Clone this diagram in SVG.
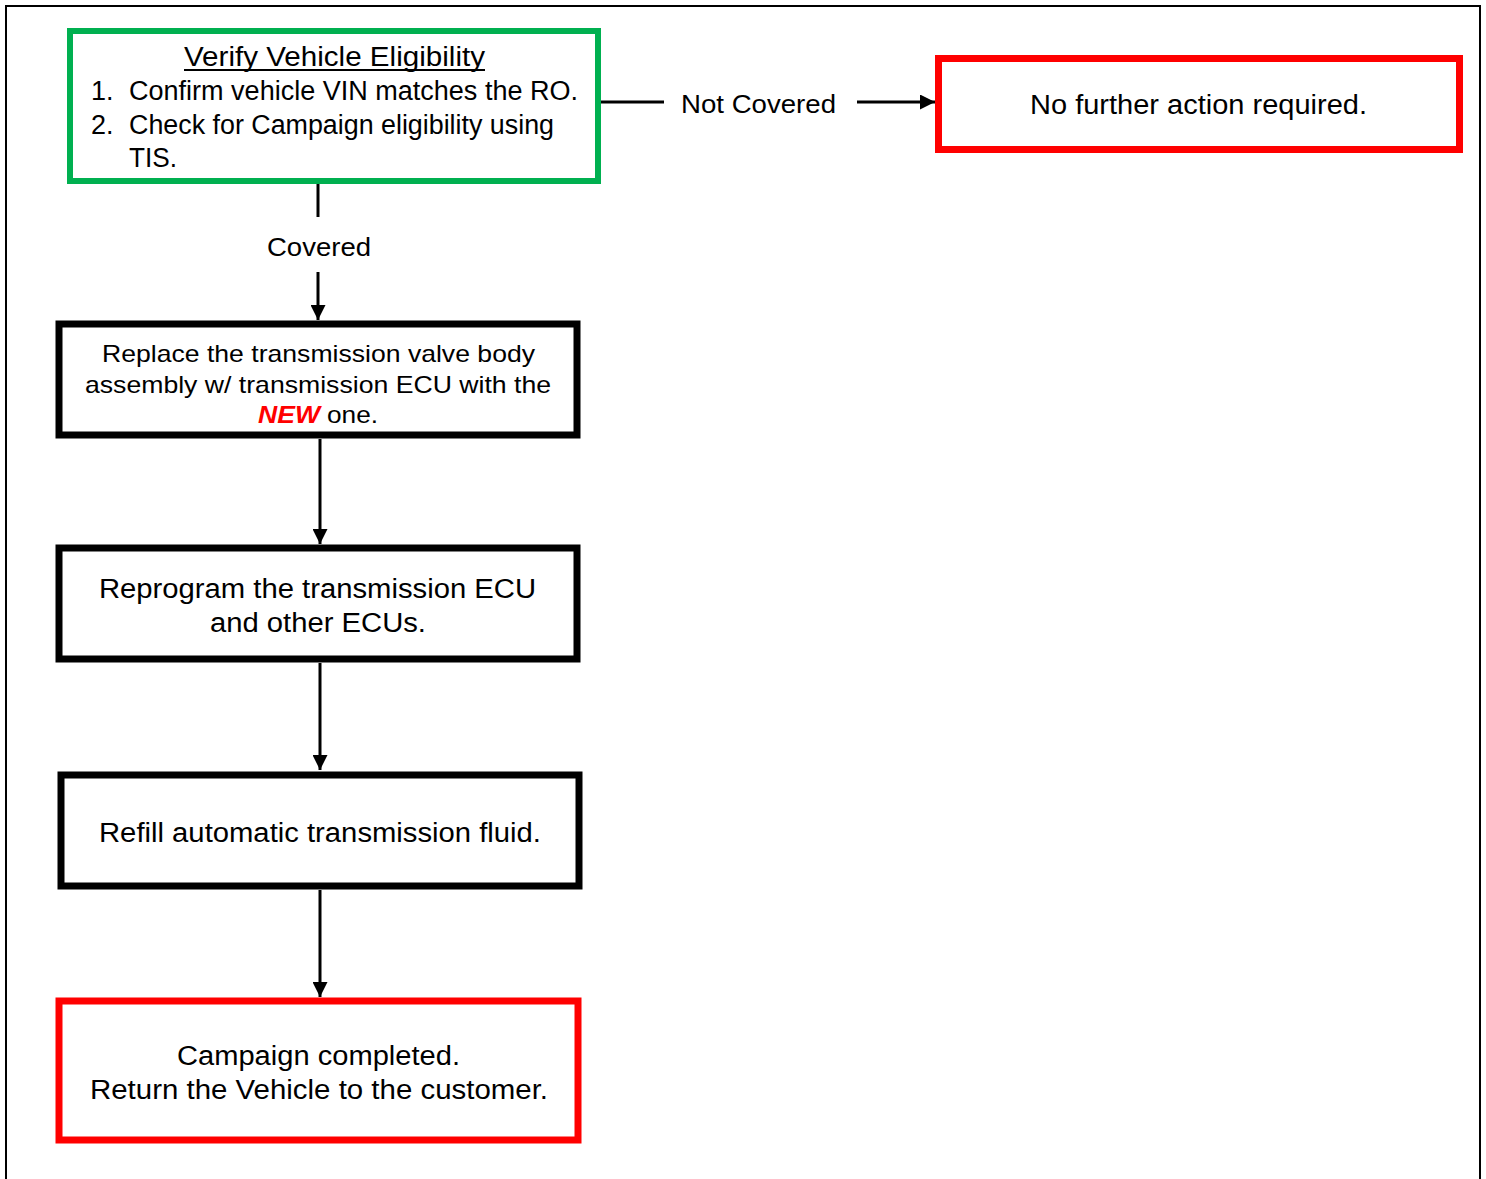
<svg xmlns="http://www.w3.org/2000/svg" width="1486" height="1179" viewBox="0 0 1486 1179">
<style>
text{font-family:"Liberation Sans",Arial,sans-serif;fill:#000}
.box{fill:#fff;stroke:#000;stroke-width:7}
.green{fill:#fff;stroke:#00b050;stroke-width:6}
.red{fill:#fff;stroke:#ff0000;stroke-width:7}
.ln{stroke:#000;stroke-width:3;fill:none}
</style>
<defs>
<marker id="ah" viewBox="0 0 10 10" refX="10" refY="5" markerWidth="5" markerHeight="5" orient="auto" markerUnits="strokeWidth">
<path d="M0,0 L10,5 L0,10 z" fill="#000"/>
</marker>
</defs>
<rect x="0" y="0" width="1486" height="1179" fill="#fff"/>
<path d="M6,1179 V6 H1480 V1179" fill="none" stroke="#000" stroke-width="2"/>

<g id="connectors">
<line class="ln" x1="601" y1="102" x2="664" y2="102"/>
<line class="ln" x1="857" y1="102" x2="935" y2="102" marker-end="url(#ah)"/>
<line class="ln" x1="318" y1="184" x2="318" y2="217"/>
<line class="ln" x1="318" y1="272" x2="318" y2="320" marker-end="url(#ah)"/>
<line class="ln" x1="320" y1="439" x2="320" y2="544" marker-end="url(#ah)"/>
<line class="ln" x1="320" y1="663" x2="320" y2="770" marker-end="url(#ah)"/>
<line class="ln" x1="320" y1="890" x2="320" y2="997" marker-end="url(#ah)"/>
<text x="681" y="113" font-size="26" textLength="155" lengthAdjust="spacingAndGlyphs">Not Covered</text>
<text x="267" y="256" font-size="25" textLength="104" lengthAdjust="spacingAndGlyphs">Covered</text>
</g>

<g id="verify">
<rect class="green" x="70" y="31" width="528" height="150"/>
<text x="184" y="66" font-size="27" textLength="301" lengthAdjust="spacingAndGlyphs">Verify Vehicle Eligibility</text>
<line x1="184" y1="70" x2="485" y2="70" stroke="#000" stroke-width="2"/>
<text x="91" y="100" font-size="27">1.</text>
<text x="129" y="100" font-size="27" textLength="449" lengthAdjust="spacingAndGlyphs">Confirm vehicle VIN matches the RO.</text>
<text x="91" y="134" font-size="27">2.</text>
<text x="129" y="134" font-size="27" textLength="425" lengthAdjust="spacingAndGlyphs">Check for Campaign eligibility using</text>
<text x="129" y="167" font-size="27" textLength="48" lengthAdjust="spacingAndGlyphs">TIS.</text>
</g>

<g id="no-action">
<rect class="red" x="938.5" y="58.5" width="521" height="91"/>
<text x="1030" y="114" font-size="27" textLength="337" lengthAdjust="spacingAndGlyphs">No further action required.</text>
</g>

<g id="replace">
<rect class="box" x="59" y="324" width="518" height="111"/>
<text x="102" y="362" font-size="24" textLength="433" lengthAdjust="spacingAndGlyphs">Replace the transmission valve body</text>
<text x="85" y="393" font-size="24" textLength="466" lengthAdjust="spacingAndGlyphs">assembly w/ transmission ECU with the</text>
<text x="258" y="423" font-size="24" font-weight="bold" font-style="italic" style="fill:#ff0000" textLength="62" lengthAdjust="spacingAndGlyphs">NEW</text>
<text x="327" y="423" font-size="24" textLength="51" lengthAdjust="spacingAndGlyphs">one.</text>
</g>

<g id="reprogram">
<rect class="box" x="59" y="548" width="518" height="111"/>
<text x="99" y="598" font-size="27" textLength="437" lengthAdjust="spacingAndGlyphs">Reprogram the transmission ECU</text>
<text x="210" y="632" font-size="27" textLength="216" lengthAdjust="spacingAndGlyphs">and other ECUs.</text>
</g>

<g id="refill">
<rect class="box" x="61" y="775" width="518" height="111"/>
<text x="99" y="842" font-size="27" textLength="442" lengthAdjust="spacingAndGlyphs">Refill automatic transmission fluid.</text>
</g>

<g id="complete">
<rect class="red" x="59" y="1001" width="519" height="139"/>
<text x="177" y="1065" font-size="27" textLength="283" lengthAdjust="spacingAndGlyphs">Campaign completed.</text>
<text x="90" y="1099" font-size="27" textLength="458" lengthAdjust="spacingAndGlyphs">Return the Vehicle to the customer.</text>
</g>
</svg>
